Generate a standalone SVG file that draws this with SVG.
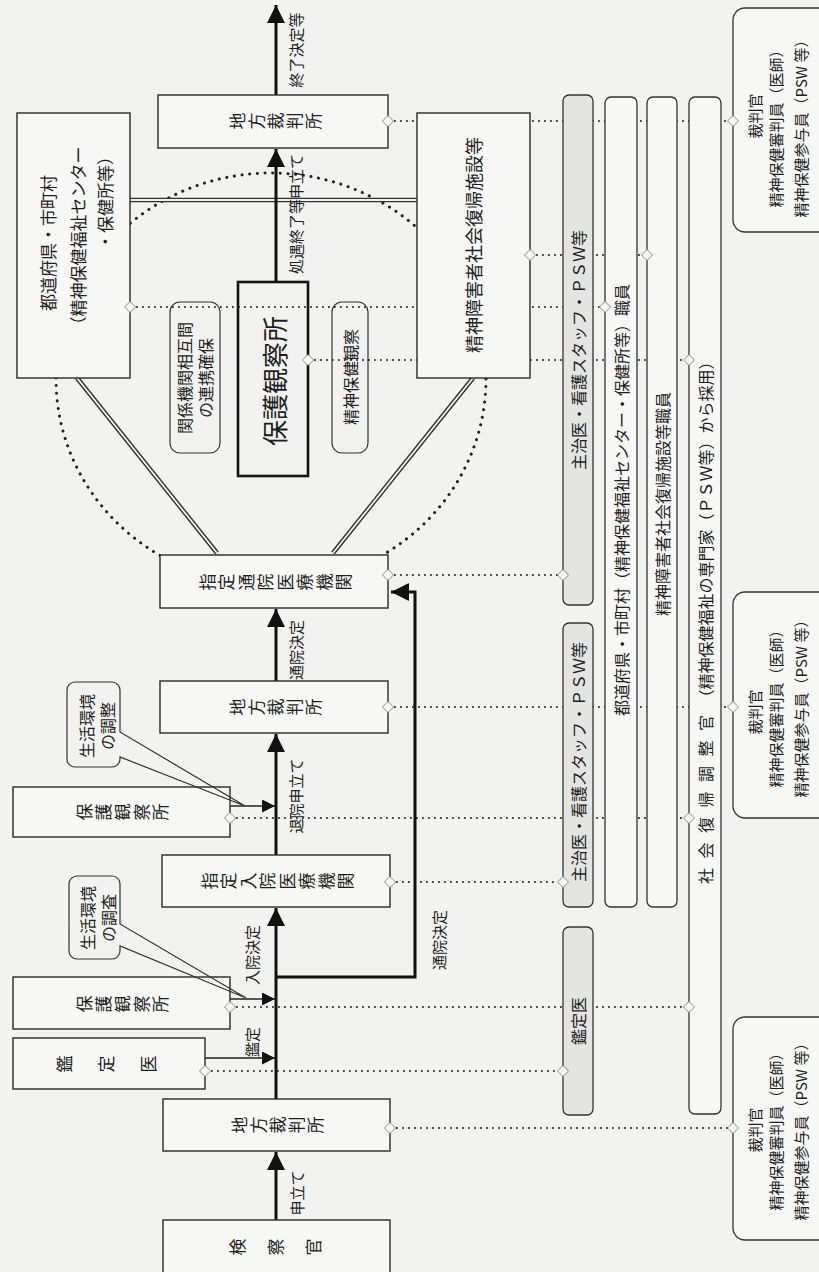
<svg xmlns="http://www.w3.org/2000/svg" width="819" height="1272" viewBox="0 0 819 1272">
<defs>
<style>
.bg{fill:#f2f2f0}
.box{fill:#f7f7f5;stroke:#2a2a2a;stroke-width:1.4}
.cbox{fill:none;stroke:#111;stroke-width:2.6}
.bar{fill:#f7f7f5;stroke:#333;stroke-width:1.3}
.barg{fill:#e4e4e2;stroke:#333;stroke-width:1.3}
.call{fill:none;stroke:#333;stroke-width:1.2}
.jbox{fill:#f7f7f5;stroke:#333;stroke-width:1.3}
text{font-family:"Noto Sans CJK JP","Noto Sans CJK SC",sans-serif;fill:#1e1e1e}
.h{dominant-baseline:central;text-anchor:middle}
.hs{dominant-baseline:central;text-anchor:start}
.he{dominant-baseline:central;text-anchor:end}
.f15{font-size:15px}
.f16{font-size:16px}
.f17{font-size:17px}
.f18{font-size:18px}
.f26{font-size:26px}
.spine{stroke:#111;stroke-width:3;fill:none}
.thin{stroke:#222;stroke-width:1.5;fill:none}
.dot{stroke:#444;stroke-width:1.8;stroke-dasharray:1.8 4.2;fill:none}
.circ{stroke:#222;stroke-width:3;stroke-dasharray:0.1 7.6;stroke-linecap:round;fill:none}
.dbl{stroke:#333;stroke-width:4.6;fill:none}
.dbl2{stroke:#f2f2f0;stroke-width:1.8;fill:none}
.dia{fill:#f7f7f5;stroke:#8a8a8a;stroke-width:1}
</style>
<marker id="ah" markerUnits="userSpaceOnUse" markerWidth="20" markerHeight="20" refX="18" refY="9" orient="auto"><path d="M0,0 L18,9 L0,18 Z" fill="#111"/></marker>
<marker id="as" markerUnits="userSpaceOnUse" markerWidth="14" markerHeight="14" refX="13" refY="6.5" orient="auto"><path d="M0,0 L13,6.5 L0,13 Z" fill="#111"/></marker>
<path id="dm" d="M-5.5,0 L0,-5.5 L5.5,0 L0,5.5 Z"/>
</defs>
<rect class="bg" x="0" y="0" width="819" height="1272"/>

<g id="ring">
<ellipse class="circ" cx="271" cy="379" rx="215" ry="206"/>
<path class="dbl" d="M217,553 L77,378 M333,553 L473,378 M130,200 L417,200"/>
<path class="dbl2" d="M217,553 L77,378 M333,553 L473,378 M130,200 L417,200"/>
</g>

<g id="connectors">
<path class="dot" d="M388,121 H733 M530,255 H647 M130,307 H605 M308,360 H689 M388,575 H563 M388,707 H733 M230,818 H689 M390,882 H563 M230,1007 H689 M205,1071 H563 M390,1128 H733"/>
<line class="spine" x1="276" y1="1220" x2="276" y2="1152" marker-end="url(#ah)"/>
<line class="spine" x1="276" y1="1099" x2="276" y2="908" marker-end="url(#ah)"/>
<polyline class="spine" points="276,977 415,977 415,592 391,592" marker-end="url(#ah)"/>
<line class="spine" x1="276" y1="855" x2="276" y2="734" marker-end="url(#ah)"/>
<line class="spine" x1="276" y1="681" x2="276" y2="609" marker-end="url(#ah)"/>
<line class="spine" x1="276" y1="282" x2="276" y2="149" marker-end="url(#ah)"/>
<line class="spine" x1="276" y1="95" x2="276" y2="5" marker-end="url(#ah)"/>
<line class="thin" x1="205" y1="1058" x2="275" y2="1058" marker-end="url(#as)"/>
<line class="thin" x1="230" y1="999" x2="275" y2="999" marker-end="url(#as)"/>
<line class="thin" x1="230" y1="806" x2="275" y2="806" marker-end="url(#as)"/>
<text class="h f15" transform="translate(296,1193) rotate(-90)">申立て</text>
<text class="h f15" transform="translate(251,1042) rotate(-90)">鑑定</text>
<text class="h f15" transform="translate(251,955) rotate(-90)">入院決定</text>
<text class="h f15" transform="translate(438,940) rotate(-90)">通院決定</text>
<text class="h f15" transform="translate(295,796) rotate(-90)">退院申立て</text>
<text class="h f15" transform="translate(295,650) rotate(-90)">通院決定</text>
<text class="h f15" transform="translate(295,214) rotate(-90)">処遇終了等申立て</text>
<text class="h f15" transform="translate(295,50) rotate(-90)">終了決定等</text>
</g>

<g id="kensatsukan">
<rect class="box" x="163" y="1220" width="227" height="60"/>
<text class="h f17" transform="translate(274,1247) rotate(-90)"><tspan x="0" y="-38">検</tspan><tspan x="0" y="0">察</tspan><tspan x="0" y="38">官</tspan></text>
</g>
<g id="chiho1">
<rect class="box" x="163" y="1099" width="227" height="52"/>
<text class="h f17" transform="translate(276,1125) rotate(-90)"><tspan x="0" y="-38">地</tspan><tspan x="0" y="-19">方</tspan><tspan x="0" y="0">裁</tspan><tspan x="0" y="19">判</tspan><tspan x="0" y="38">所</tspan></text>
</g>
<g id="kanteii">
<rect class="box" x="13" y="1038" width="192" height="51"/>
<text class="h f17" transform="translate(105,1064) rotate(-90)"><tspan x="0" y="-42">鑑</tspan><tspan x="0" y="0">定</tspan><tspan x="0" y="42">医</tspan></text>
</g>
<g id="hogo1">
<rect class="box" x="13" y="977" width="217" height="52"/>
<text class="h f17" transform="translate(121,1004) rotate(-90)"><tspan x="0" y="-38">保</tspan><tspan x="0" y="-19">護</tspan><tspan x="0" y="0">観</tspan><tspan x="0" y="19">察</tspan><tspan x="0" y="38">所</tspan></text>
</g>
<g id="callout-chosa">
<path class="call" d="M77,876 H112 A8,8 0 0 1 120,884 V924 L246,998 L120,946 V951 A8,8 0 0 1 112,959 H77 A8,8 0 0 1 69,951 V884 A8,8 0 0 1 77,876 Z"/>
<text class="h f16" transform="translate(87,918) rotate(-90)">生活環境</text>
<text class="h f16" transform="translate(108,918) rotate(-90)">の調査</text>
</g>
<g id="nyuin">
<rect class="box" x="162" y="855" width="228" height="52"/>
<text class="h f17" transform="translate(276,881) rotate(-90)"><tspan x="0" y="-68.25">指</tspan><tspan x="0" y="-48.75">定</tspan><tspan x="0" y="-29.25">入</tspan><tspan x="0" y="-9.75">院</tspan><tspan x="0" y="9.75">医</tspan><tspan x="0" y="29.25">療</tspan><tspan x="0" y="48.75">機</tspan><tspan x="0" y="68.25">関</tspan></text>
</g>
<g id="hogo2">
<rect class="box" x="13" y="787" width="217" height="50"/>
<text class="h f17" transform="translate(121,812) rotate(-90)"><tspan x="0" y="-38">保</tspan><tspan x="0" y="-19">護</tspan><tspan x="0" y="0">観</tspan><tspan x="0" y="19">察</tspan><tspan x="0" y="38">所</tspan></text>
</g>
<g id="callout-chosei">
<path class="call" d="M75,682 H112 A8,8 0 0 1 120,690 V732 L245,806 L120,757 V759 A8,8 0 0 1 112,767 H75 A8,8 0 0 1 67,759 V690 A8,8 0 0 1 75,682 Z"/>
<text class="h f16" transform="translate(86,726) rotate(-90)">生活環境</text>
<text class="h f16" transform="translate(107,726) rotate(-90)">の調整</text>
</g>
<g id="chiho2">
<rect class="box" x="160" y="681" width="228" height="52"/>
<text class="h f17" transform="translate(274,707) rotate(-90)"><tspan x="0" y="-38">地</tspan><tspan x="0" y="-19">方</tspan><tspan x="0" y="0">裁</tspan><tspan x="0" y="19">判</tspan><tspan x="0" y="38">所</tspan></text>
</g>
<g id="tsuin">
<rect class="box" x="160" y="555" width="228" height="53"/>
<text class="h f17" transform="translate(274,582) rotate(-90)"><tspan x="0" y="-68.25">指</tspan><tspan x="0" y="-48.75">定</tspan><tspan x="0" y="-29.25">通</tspan><tspan x="0" y="-9.75">院</tspan><tspan x="0" y="9.75">医</tspan><tspan x="0" y="29.25">療</tspan><tspan x="0" y="48.75">機</tspan><tspan x="0" y="68.25">関</tspan></text>
</g>
<g id="hogo-center">
<rect class="cbox" x="238" y="282" width="70" height="194"/>
<text class="h f26" transform="translate(273,381) rotate(-90)">保護観察所</text>
</g>
<g id="callout-renkei">
<rect class="call" x="170" y="302" width="50" height="151" rx="10"/>
<text class="h f16" transform="translate(184,378) rotate(-90)">関係機関相互間</text>
<text class="h f16" transform="translate(205,378) rotate(-90)">の連携確保</text>
</g>
<g id="callout-kansatsu">
<rect class="call" x="332" y="302" width="36" height="151" rx="10"/>
<text class="h f16" transform="translate(350,377) rotate(-90)">精神保健観察</text>
</g>
<g id="todofuken">
<rect class="box" x="17" y="113" width="113" height="265"/>
<text class="h f17" transform="translate(47,243) rotate(-90)">都道府県・市町村</text>
<text class="h f17" transform="translate(77,240) rotate(-90)">（精神保健福祉センター</text>
<text class="he f17" transform="translate(104,148) rotate(-90)">・保健所等）</text>
</g>
<g id="shakaifukki">
<rect class="box" x="417" y="113" width="113" height="265"/>
<text class="h f18" transform="translate(473,245) rotate(-90)">精神障害者社会復帰施設等</text>
</g>
<g id="chiho3">
<rect class="box" x="158" y="95" width="230" height="53"/>
<text class="h f17" transform="translate(274,121) rotate(-90)"><tspan x="0" y="-38">地</tspan><tspan x="0" y="-19">方</tspan><tspan x="0" y="0">裁</tspan><tspan x="0" y="19">判</tspan><tspan x="0" y="38">所</tspan></text>
</g>

<g id="bar-shujii1">
<rect class="barg" x="563" y="95" width="30" height="510" rx="6"/>
<text class="h f16" transform="translate(578,350) rotate(-90)">主治医・看護スタッフ・ＰＳＷ等</text>
</g>
<g id="bar-shujii2">
<rect class="barg" x="563" y="623" width="30" height="284" rx="6"/>
<text class="h f16" transform="translate(578,762) rotate(-90)">主治医・看護スタッフ・ＰＳＷ等</text>
</g>
<g id="bar-kanteii">
<rect class="barg" x="563" y="927" width="30" height="188" rx="6"/>
<text class="h f16" transform="translate(578,1021) rotate(-90)">鑑定医</text>
</g>
<g id="bar-todofuken">
<rect class="bar" x="605" y="97" width="32" height="810" rx="6"/>
<text class="h f16" transform="translate(621,500) rotate(-90)">都道府県・市町村（精神保健福祉センター・保健所等）職員</text>
</g>
<g id="bar-shisetsu">
<rect class="bar" x="647" y="97" width="30" height="810" rx="6"/>
<text class="h f16" transform="translate(662,504) rotate(-90)">精神障害者社会復帰施設等職員</text>
</g>
<g id="bar-chosei">
<rect class="bar" x="689" y="97" width="32" height="1017" rx="6"/>
<text class="hs f16" transform="translate(705,884) rotate(-90)"><tspan letter-spacing="9.5">社会復帰調整官</tspan><tspan>（精神保健福祉の専門家（ＰＳＷ等）から採用）</tspan></text>
</g>

<g id="judge1">
<rect class="jbox" x="733" y="8" width="100" height="224" rx="12"/>
<text class="h f15" transform="translate(754,116) rotate(-90)">裁判官</text>
<text class="h f15" transform="translate(775,125) rotate(-90)">精神保健審判員（医師）</text>
<text class="h f15" transform="translate(800,125) rotate(-90)">精神保健参与員（PSW 等）</text>
</g>
<g id="judge2">
<rect class="jbox" x="733" y="592" width="100" height="226" rx="12"/>
<text class="h f15" transform="translate(754,712) rotate(-90)">裁判官</text>
<text class="h f15" transform="translate(775,705) rotate(-90)">精神保健審判員（医師）</text>
<text class="h f15" transform="translate(800,705) rotate(-90)">精神保健参与員（PSW 等）</text>
</g>
<g id="judge3">
<rect class="jbox" x="733" y="1017" width="100" height="223" rx="12"/>
<text class="h f15" transform="translate(754,1130) rotate(-90)">裁判官</text>
<text class="h f15" transform="translate(775,1128) rotate(-90)">精神保健審判員（医師）</text>
<text class="h f15" transform="translate(800,1128) rotate(-90)">精神保健参与員（PSW 等）</text>
</g>

<g id="ports">
<use href="#dm" class="dia" x="388" y="121"/><use href="#dm" class="dia" x="733" y="121"/>
<use href="#dm" class="dia" x="530" y="255"/><use href="#dm" class="dia" x="647" y="255"/>
<use href="#dm" class="dia" x="130" y="307"/><use href="#dm" class="dia" x="605" y="307"/>
<use href="#dm" class="dia" x="308" y="360"/><use href="#dm" class="dia" x="689" y="360"/>
<use href="#dm" class="dia" x="388" y="575"/><use href="#dm" class="dia" x="563" y="575"/>
<use href="#dm" class="dia" x="388" y="707"/><use href="#dm" class="dia" x="733" y="707"/>
<use href="#dm" class="dia" x="230" y="818"/><use href="#dm" class="dia" x="689" y="818"/>
<use href="#dm" class="dia" x="390" y="882"/><use href="#dm" class="dia" x="563" y="882"/>
<use href="#dm" class="dia" x="230" y="1007"/><use href="#dm" class="dia" x="689" y="1007"/>
<use href="#dm" class="dia" x="205" y="1071"/><use href="#dm" class="dia" x="563" y="1071"/>
<use href="#dm" class="dia" x="390" y="1128"/><use href="#dm" class="dia" x="733" y="1128"/>
</g>
</svg>
